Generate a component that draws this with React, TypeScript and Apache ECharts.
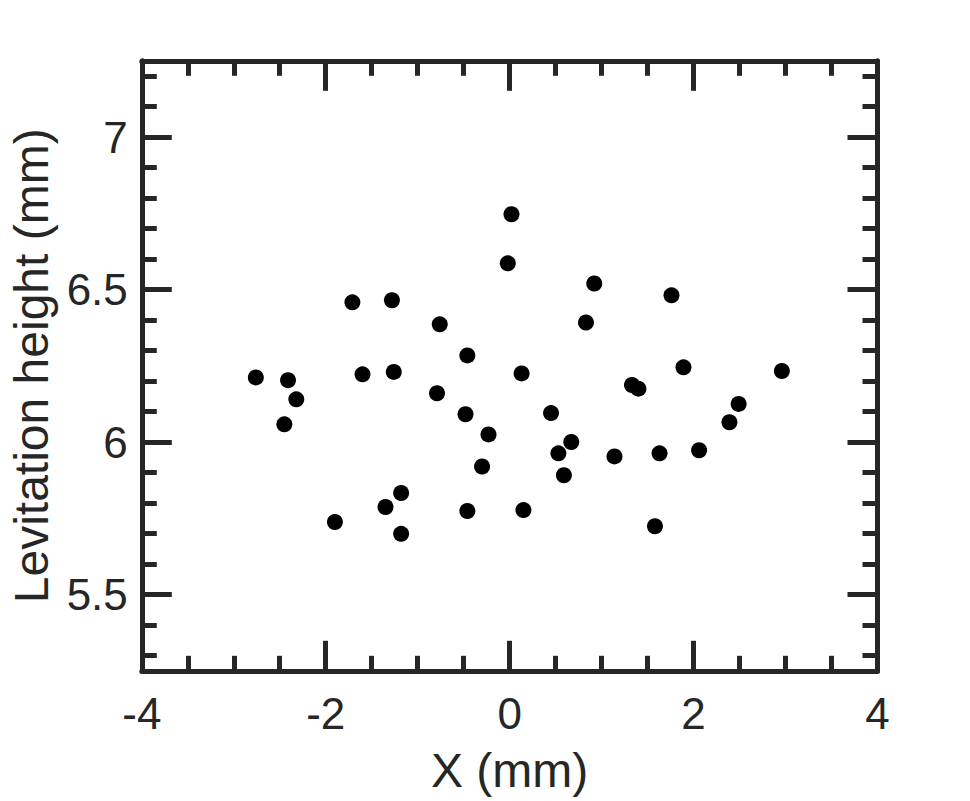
import React, { useEffect, useRef } from "react";
import * as echarts from "echarts";

const xValues = [
  -2.76, -2.41, -2.32, -2.45, -1.71, -1.28, -1.6, -1.26, -0.76, -0.46,
  -0.79, -0.48, -0.23, -0.3, -1.18, -1.35, -1.18, -1.9, -0.46, 0.02,
  -0.02, 0.13, 0.92, 0.83, 0.45, 0.67, 0.53, 0.59, 0.15, 1.33,
  1.4, 1.76, 1.89, 1.14, 1.63, 2.06, 2.39, 2.49, 1.58, 2.96,
];
const yValues = [
  6.212, 6.203, 6.14, 6.058, 6.458, 6.465, 6.222, 6.23, 6.386, 6.284,
  6.16, 6.091, 6.025, 5.92, 5.833, 5.787, 5.699, 5.738, 5.774, 6.747,
  6.586, 6.225, 6.52, 6.392, 6.095, 6.0, 5.963, 5.891, 5.777, 6.187,
  6.175, 6.481, 6.245, 5.953, 5.963, 5.973, 6.065, 6.125, 5.724, 6.233,
];
const yMajorTicks = [5.5, 6, 6.5, 7];
const yMinorTicks = [
  5.3, 5.4, 5.6, 5.7, 5.8, 5.9, 6.1, 6.2, 6.3, 6.4, 6.6, 6.7, 6.8, 6.9, 7.1, 7.2,
];
const xTitle = "X (mm)";
const yTitle = "Levitation height (mm)";

const INK = "#262626";
const FONT = "'Liberation Sans', Arial, Helvetica, sans-serif";

export default function App() {
  const ref = useRef<HTMLDivElement>(null);
  useEffect(() => {
    if (!ref.current) return;
    const chart = echarts.init(ref.current, undefined, { renderer: "svg" });
    const lineStyle = { color: INK, width: 5 };
    const baseX = {
      type: "value" as const,
      min: -4,
      max: 4,
      interval: 2,
      axisLine: { show: true, lineStyle, onZero: false },
      axisTick: { show: true, inside: true, length: 30, lineStyle },
      minorTick: { show: true, splitNumber: 4, length: 15, lineStyle },
      splitLine: { show: false },
      minorSplitLine: { show: false },
    };
    const baseY = {
      type: "value" as const,
      min: 5.25,
      max: 7.25,
      splitLine: { show: false },
    };
    chart.setOption({
      animation: false,
      backgroundColor: "#ffffff",
      grid: {
        left: 141.8,
        right: 92.5,
        top: 60.8,
        bottom: 130.2,
        containLabel: false,
        outerBoundsMode: "none",
      },
      xAxis: [
        {
          ...baseX,
          position: "bottom",
          name: xTitle,
          nameLocation: "middle",
          nameGap: 76,
          nameTextStyle: { color: INK, fontSize: 48, fontFamily: FONT },
          axisLabel: {
            show: true,
            color: INK,
            fontSize: 44,
            fontFamily: FONT,
            margin: 21,
          },
        },
        {
          ...baseX,
          position: "top",
          axisLabel: { show: false },
        },
      ],
      yAxis: [
        {
          ...baseY,
          position: "left",
          name: yTitle,
          nameLocation: "middle",
          nameGap: 83,
          nameRotate: 90,
          nameTextStyle: { color: INK, fontSize: 48, fontFamily: FONT },
          axisLine: { show: true, lineStyle, onZero: false },
          axisTick: {
            show: true,
            inside: true,
            length: 30,
            lineStyle,
            customValues: yMajorTicks,
          },
          axisLabel: {
            show: true,
            color: INK,
            fontSize: 44,
            fontFamily: FONT,
            margin: 14,
            customValues: yMajorTicks,
            formatter: (v: number) => String(v),
          },
        },
        {
          ...baseY,
          position: "right",
          axisLine: { show: true, lineStyle, onZero: false },
          axisTick: {
            show: true,
            inside: true,
            length: 30,
            lineStyle,
            customValues: yMajorTicks,
          },
          axisLabel: { show: false },
        },
        {
          ...baseY,
          position: "left",
          axisLine: { show: false, onZero: false },
          axisTick: {
            show: true,
            inside: true,
            length: 15,
            lineStyle,
            customValues: yMinorTicks,
          },
          axisLabel: { show: false },
        },
        {
          ...baseY,
          position: "right",
          axisLine: { show: false, onZero: false },
          axisTick: {
            show: true,
            inside: true,
            length: 15,
            lineStyle,
            customValues: yMinorTicks,
          },
          axisLabel: { show: false },
        },
      ],
      series: [
        {
          type: "scatter",
          xAxisIndex: 0,
          yAxisIndex: 0,
          symbol: "circle",
          symbolSize: 16,
          itemStyle: { color: "#000000", opacity: 1 },
          data: xValues.map((x, i) => [x, yValues[i]]),
        },
      ],
    });
    return () => chart.dispose();
  }, []);
  return (
    <div
      ref={ref}
      style={{ position: "absolute", left: 0, top: 0, width: 970, height: 801 }}
    />
  );
}
